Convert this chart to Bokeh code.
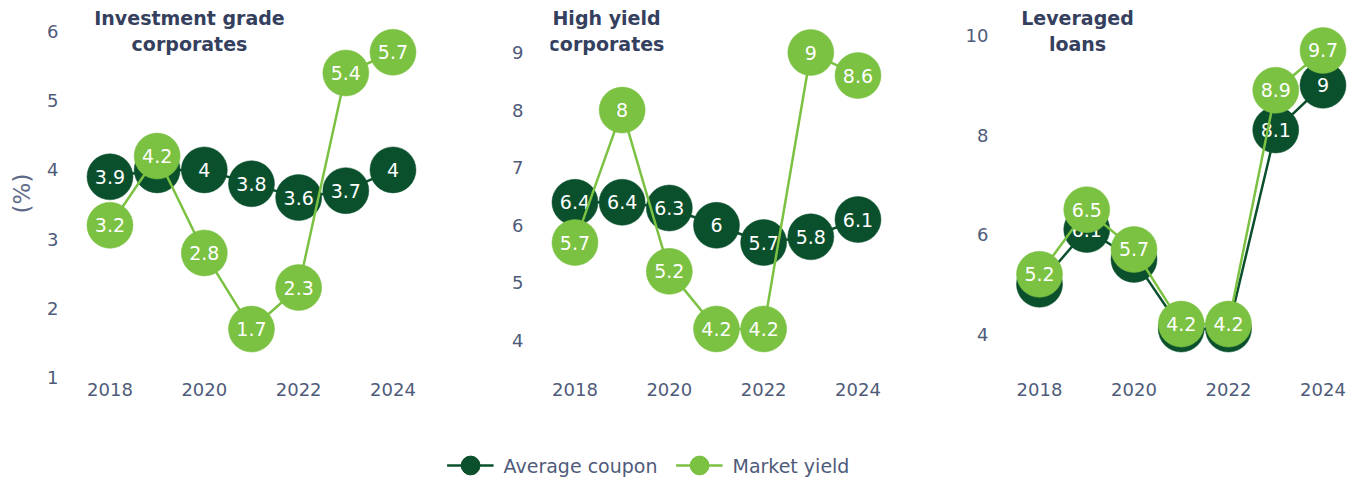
from bokeh.plotting import figure
from bokeh.models import (ColumnDataSource, Range1d, FixedTicker, Label, Legend, LegendItem)
from bokeh.layouts import row, column
from bokeh.embed import file_html
from bokeh.resources import INLINE
from bokeh.core.properties import value

# ---- data ----
years = [2018, 2019, 2020, 2021, 2022, 2023, 2024]
year_ticks = [2018, 2020, 2022, 2024]

ig_coupon = [3.9, 4.0, 4.0, 3.8, 3.6, 3.7, 4.0]
ig_yield = [3.2, 4.2, 2.8, 1.7, 2.3, 5.4, 5.7]
hy_coupon = [6.4, 6.4, 6.3, 6.0, 5.7, 5.8, 6.1]
hy_yield = [5.7, 8.0, 5.2, 4.2, 4.2, 9.0, 8.6]
lev_coupon = [5.0, 6.1, 5.5, 4.1, 4.1, 8.1, 9.0]
lev_yield = [5.2, 6.5, 5.7, 4.2, 4.2, 8.9, 9.7]

titles = ["Investment grade\ncorporates", "High yield\ncorporates", "Leveraged\nloans"]
ig_yticks = [1, 2, 3, 4, 5, 6]
hy_yticks = [4, 5, 6, 7, 8, 9]
lev_yticks = [4, 6, 8, 10]
series_names = ["Average coupon", "Market yield"]

# ---- style ----
DARK = "#0a502d"
LIGHT = "#7bc142"
TITLE_C = "#34405e"
TICK_C = "#4f5b7a"
FONT = "DejaVu Sans"

FRAME_TOP = 8
FRAME_H = 370
FRAME_W = 333


def fmt(v):
    return f"{v:g}"


def make_panel(coupon, yld, title, yticks, xr, yr, title_px, width, bl, br, ylabel=None):
    p = figure(width=width, height=428, x_range=Range1d(*xr), y_range=Range1d(*yr),
               output_backend="svg", toolbar_location=None,
               min_border_left=bl, min_border_right=br, min_border_top=FRAME_TOP,
               min_border_bottom=50)
    p.outline_line_color = None
    p.grid.visible = False
    p.background_fill_color = "white"
    p.border_fill_color = "white"
    for ax in (p.xaxis, p.yaxis):
        ax.axis_line_color = None
        ax.major_tick_line_color = None
        ax.minor_tick_line_color = None
        ax.major_tick_out = 0
        ax.major_tick_in = 0
        ax.major_label_text_font = FONT
        ax.major_label_text_font_size = "18px"
        ax.major_label_text_color = TICK_C
    p.xaxis.ticker = FixedTicker(ticks=year_ticks)
    p.yaxis.ticker = FixedTicker(ticks=yticks)
    p.xaxis.major_label_standoff = 4
    p.yaxis.major_label_standoff = 27
    if ylabel:
        p.yaxis.axis_label = ylabel
        p.yaxis.axis_label_text_font = FONT
        p.yaxis.axis_label_text_font_size = "23px"
        p.yaxis.axis_label_text_font_style = "normal"
        p.yaxis.axis_label_text_color = "#5d6a88"
        p.yaxis.axis_label_standoff = 9

    for vals, col in ((coupon, DARK), (yld, LIGHT)):
        src = ColumnDataSource(dict(x=years, y=vals, t=[fmt(v) for v in vals]))
        p.line("x", "y", source=src, line_color=col, line_width=2.5)
        p.scatter("x", "y", source=src, size=46, fill_color=col, line_color=col, line_width=0.5)
        p.text("x", "y", text="t", source=src, text_color="white", text_align="center",
               text_baseline="middle", text_font=value(FONT), text_font_size="19px")

    # title position given as offsets (px) from frame's left / top edges
    tx = xr[0] + title_px[0] * (xr[1] - xr[0]) / FRAME_W
    ty = yr[1] - title_px[1] * (yr[1] - yr[0]) / FRAME_H
    p.add_layout(Label(x=tx, y=ty, text=title, text_align="center",
                       text_baseline="top", text_font=FONT, text_font_size="19px",
                       text_font_style="bold", text_color=TITLE_C, text_line_height=1.19))
    return p


p1 = make_panel(ig_coupon, ig_yield, titles[0], ig_yticks,
                (2017.481, 2024.541), (0.986, 6.332), (104, -2), 468, 85, 50, ylabel="(%)")
p2 = make_panel(hy_coupon, hy_yield, titles[1], hy_yticks,
                (2017.481, 2024.541), (3.340, 9.764), (56, -2), 465, 82, 50)
p3 = make_panel(lev_coupon, lev_yield, titles[2], lev_yticks,
                (2017.492, 2024.54), (3.106, 10.543), (62, -2), 428, 82, 13)

# legend strip (legend-key renderers sit outside the visible range)
pl = figure(width=1361, height=51, output_backend="svg", toolbar_location=None,
            x_range=Range1d(0, 1), y_range=Range1d(0, 1),
            min_border_left=0, min_border_right=65, min_border_top=23, min_border_bottom=0)
pl.outline_line_color = None
pl.grid.visible = False
pl.axis.visible = False
items = []
for name, col, vals in zip(series_names, (DARK, LIGHT), (ig_coupon, ig_yield)):
    src = ColumnDataSource(dict(x=years, y=vals))
    lr = pl.line("x", "y", source=src, line_color=col, line_width=2.5)
    sr = pl.scatter("x", "y", source=src, size=22, fill_color=col, line_color=col)
    items.append(LegendItem(label=name, renderers=[lr, sr]))
leg = Legend(items=items, orientation="horizontal", location="center",
             glyph_width=47, glyph_height=55, label_standoff=10, spacing=18,
             padding=0, margin=0, border_line_color=None, background_fill_alpha=0,
             label_text_font=FONT, label_text_font_size="19px", label_text_color=TICK_C)
pl.add_layout(leg, "center")

layout = column(row(p1, p2, p3), pl)
open("out.html", "w").write(file_html(layout, INLINE))
